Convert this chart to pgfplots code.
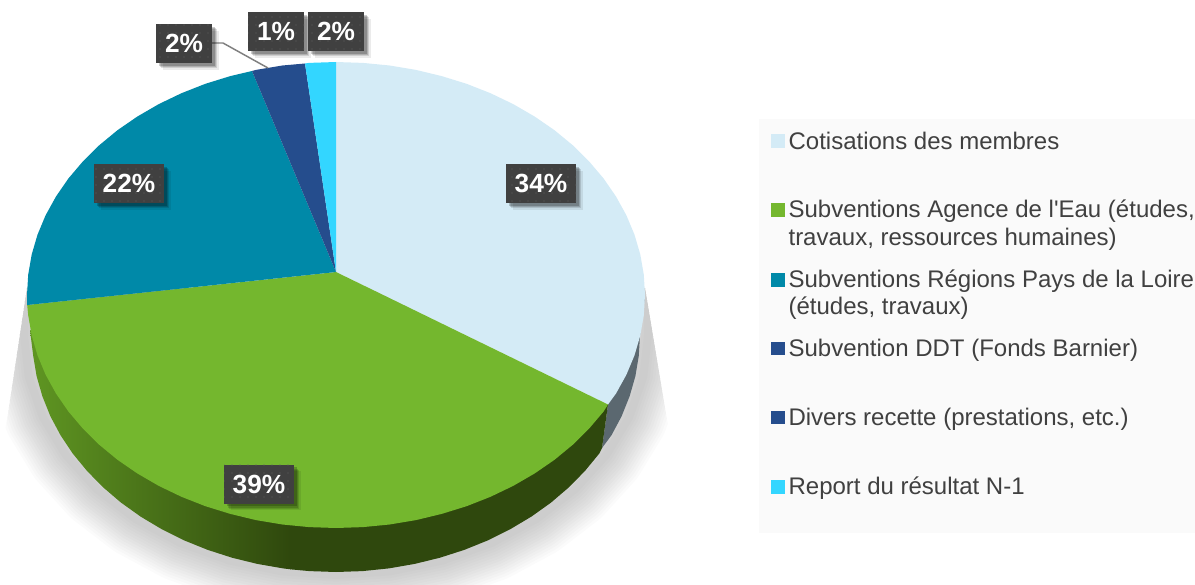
\documentclass[border=0pt]{standalone}
\usepackage{fontspec}
\setmainfont{Liberation Sans}
\newfontfamily\plainf[Ligatures=ResetAll]{Liberation Sans}
\usepackage{pgfplots}
\pgfplotsset{compat=1.18}
\usetikzlibrary{patterns.meta,shadows}
\definecolor{cBlue}{HTML}{D4EBF6}
\definecolor{cGreen}{HTML}{74B72E}
\definecolor{cTeal}{HTML}{0089A8}
\definecolor{cNavy}{HTML}{254D8D}
\definecolor{cCyan}{HTML}{33D6FF}
\definecolor{cSideGrey}{HTML}{5B6870}
\definecolor{cSideDark}{HTML}{2F480D}
\definecolor{cSideLight}{HTML}{5F9622}
\definecolor{cTxt}{HTML}{404040}
\definecolor{cBox}{HTML}{404040}
\definecolor{cDot}{HTML}{626262}
\definecolor{cLeg}{HTML}{FAFAFA}
\newcommand{\shadowpts}{(24,290) (24,335) (28.7,376.7) (42.8,417.1) (65.8,455) (97,489.3) (135.5,518.9) (180,542.8) (229.3,560.5) (281.8,571.4) (336,575) (390.2,571.4) (442.7,560.5) (492,542.8) (536.5,518.9) (575,489.3) (606.2,455) (629.2,417.1) (643.3,376.7) (648,335) (648,290)}
\tikzset{
  lab/.style={inner sep=0pt, minimum height=29.25pt, text=white,
    font=\fontsize{19.7}{22}\selectfont\bfseries,
    drop shadow={shadow xshift=5pt, shadow yshift=-5pt, fill=black, opacity=0.08},
    drop shadow={shadow xshift=4pt, shadow yshift=-4pt, fill=black, opacity=0.12},
    drop shadow={shadow xshift=3pt, shadow yshift=-3pt, fill=black, opacity=0.15},
    drop shadow={shadow xshift=2pt, shadow yshift=-2pt, fill=black, opacity=0.2},
    preaction={fill=cBox},
    pattern={Dots[distance=6pt, radius=0.55pt]}, pattern color=cDot},
  leg/.style={anchor=base west, inner sep=0pt, text=cTxt, align=left,
    font=\fontsize{18}{21}\selectfont},
  sh/.style={draw=black, opacity=0.016, line width=#1, line join=round},
  key/.style={only marks, mark=square*, mark size=4.7pt, color=#1, mark options={line width=0.2pt}}
}
\begin{document}
\begin{tikzpicture}
\begin{axis}[
  scale only axis, width=896.25pt, height=438.75pt,
  xmin=0, xmax=1195, ymin=0, ymax=585, y dir=reverse,
  axis lines=none, clip=true
]
% legend panel
\addplot[fill=cLeg, draw=none] coordinates {(759,119) (1195,119) (1195,533) (759,533)} -- cycle;

% soft shadow
\begin{scope}
\clip (axis cs:27,288) -- (axis cs:7,420) -- (axis cs:-30,600) -- (axis cs:720,600) -- (axis cs:667,420) -- (axis cs:645,288) -- cycle;
\addplot[sh=58pt] coordinates {\shadowpts} -- cycle;
\addplot[sh=54pt] coordinates {\shadowpts} -- cycle;
\addplot[sh=50pt] coordinates {\shadowpts} -- cycle;
\addplot[sh=46pt] coordinates {\shadowpts} -- cycle;
\addplot[sh=42pt] coordinates {\shadowpts} -- cycle;
\addplot[sh=38pt] coordinates {\shadowpts} -- cycle;
\addplot[sh=34pt] coordinates {\shadowpts} -- cycle;
\addplot[sh=30pt] coordinates {\shadowpts} -- cycle;
\addplot[sh=26pt] coordinates {\shadowpts} -- cycle;
\addplot[sh=22pt] coordinates {\shadowpts} -- cycle;
\addplot[sh=18pt] coordinates {\shadowpts} -- cycle;
\addplot[sh=14pt] coordinates {\shadowpts} -- cycle;
\addplot[sh=10pt] coordinates {\shadowpts} -- cycle;
\addplot[sh=6pt] coordinates {\shadowpts} -- cycle;
\end{scope}

% pie side: grey part (Cotisations)
\addplot[fill=cSideGrey, draw=none] coordinates {(645,295) (640,335) (638.8,355.7) (635.4,376.2) (629.6,396.3) (621.7,416.1) (611.5,435.2) (602,448) (608,404.5)} -- cycle;
% pie side: dark part of green
\addplot[fill=cSideDark, draw=none] coordinates {(608,404.5) (602,448) (599.3,453.5) (585,470.9) (568.9,487.3) (551,502.6) (531.4,516.6) (510.4,529.1) (488,540.3) (464.5,549.8) (440,557.7) (414.7,563.9) (388.8,568.4) (362.5,571.1) (336,572) (309.5,571.1) (290,569.3) (290,500) (500,450)} -- cycle;
% pie side: shaded part of green
\addplot[left color=cSideLight, right color=cSideDark, draw=none] coordinates {(290.5,569.3) (283.2,568.4) (257.3,563.9) (232,557.7) (207.5,549.8) (184,540.3) (161.6,529.1) (140.6,516.6) (121,502.6) (103.1,487.3) (87,470.9) (72.7,453.5) (60.5,435.2) (50.3,416.1) (42.4,396.3) (36.6,376.2) (33.2,355.7) (30,330) (290.5,500)} -- cycle;

% top face
\addplot[fill=cBlue, draw=none] coordinates {(336,272) (336,62) (362.9,62.9) (389.7,65.5) (416,69.9) (441.7,76.1) (466.6,83.8) (490.5,93.2) (513.2,104.1) (534.6,116.5) (554.5,130.2) (572.7,145.2) (589.1,161.4) (603.6,178.5) (616,196.5) (626.4,215.3) (634.5,234.7) (640.3,254.5) (643.8,274.7) (645,295) (643.8,315.3) (640.3,335.5) (634.5,355.3) (626.4,374.7) (616,393.5) (608,404.5)} -- cycle;
\addplot[fill=cGreen, draw=none] coordinates {(336,272) (608,404.5) (603.6,411.5) (589.1,428.6) (572.7,444.8) (554.5,459.8) (534.6,473.5) (513.2,485.9) (490.5,496.8) (466.6,506.2) (441.7,513.9) (416,520.1) (389.7,524.5) (362.9,527.1) (336,528) (309.1,527.1) (282.3,524.5) (256,520.1) (230.3,513.9) (205.4,506.2) (181.5,496.8) (158.8,485.9) (137.4,473.5) (117.5,459.8) (99.3,444.8) (82.9,428.6) (68.4,411.5) (56,393.5) (45.6,374.7) (37.5,355.3) (31.7,335.5) (28.2,315.3) (27.2,305)} -- cycle;
\addplot[fill=cTeal, draw=none] coordinates {(336,272) (27.2,305) (27,295) (28.2,274.7) (31.7,254.5) (37.5,234.7) (45.6,215.3) (56,196.5) (68.4,178.5) (82.9,161.4) (99.3,145.2) (117.5,130.2) (137.4,116.5) (158.8,104.1) (181.5,93.2) (205.4,83.8) (230.3,76.1) (252,71)} -- cycle;
\addplot[fill=cNavy, draw=none] coordinates {(336,272) (252,71) (256,69.9) (282.3,65.5) (305,63.5)} -- cycle;
\addplot[fill=cCyan, draw=none] coordinates {(336,272) (305,63.5) (309.1,62.9) (336,62)} -- cycle;

% leader line
\addplot[draw=black!50, line width=1.1pt] coordinates {(212,43) (223,43) (268,68)};

% data labels
\node[lab, minimum width=42pt] at (axis cs:184,43.5) {2\%};
\node[lab, minimum width=42pt] at (axis cs:276,31.5) {1\%};
\node[lab, minimum width=42pt] at (axis cs:336,31.5) {2\%};
\node[lab, minimum width=52.5pt] at (axis cs:129,183.5) {22\%};
\node[lab, minimum width=52.5pt] at (axis cs:541,183.5) {34\%};
\node[lab, minimum width=52.5pt] at (axis cs:259,484) {39\%};

% legend keys
\addplot[key=cBlue] coordinates {(777.5,140.5)};
\addplot[key=cGreen] coordinates {(777.5,209.5)};
\addplot[key=cTeal] coordinates {(777.5,279.5)};
\addplot[key=cNavy] coordinates {(777.5,348.3)};
\addplot[key=cNavy] coordinates {(777.5,417)};
\addplot[key=cCyan] coordinates {(777.5,486.7)};

% legend text
\node[leg] at (axis cs:788.3,149) {Cotisations des membres};
\node[leg] at (axis cs:788.3,217) {Subventions Agence de l{\plainf '}Eau (études,};
\node[leg] at (axis cs:788.3,245) {travaux, ressources humaines)};
\node[leg] at (axis cs:788.3,287) {Subventions Régions Pays de la Loire};
\node[leg] at (axis cs:788.3,314) {(études, travaux)};
\node[leg] at (axis cs:788.3,356) {Subvention DDT (Fonds Barnier)};
\node[leg] at (axis cs:788.3,425) {Divers recette (prestations, etc.)};
\node[leg] at (axis cs:788.3,494) {Report du résultat N-1};
\end{axis}
\pgfresetboundingbox
\useasboundingbox (current axis.south west) rectangle (current axis.north east);
\end{tikzpicture}
\end{document}
